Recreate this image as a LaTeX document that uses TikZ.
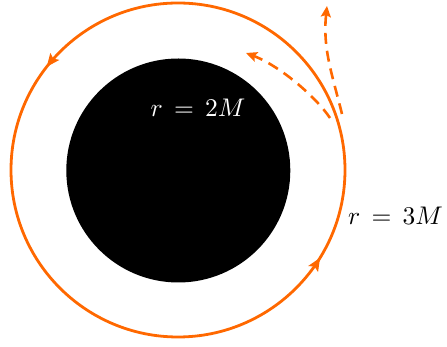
\documentclass[tikz,border=0pt]{standalone}
\usetikzlibrary{arrows.meta,decorations.markings}
\definecolor{orbit}{RGB}{255,104,0}
\begin{document}
\begin{tikzpicture}[x=1pt,y=1pt,
  orbitline/.style={draw=orbit,line width=2.8pt},
  escape/.style={draw=orbit,line width=2.6pt,dash pattern=on 11pt off 7pt,
    -{Stealth[length=11pt,width=10pt,inset=2pt]}},
  lab/.style={inner sep=0pt,scale=2.55}]
\useasboundingbox (0,0) rectangle (447,347);
\coordinate (bh) at (178.3,176.5);
\coordinate (oc) at (178,177);
\fill[black] (bh) circle (112);
\draw[orbitline,postaction={decorate},
  decoration={markings,
    mark=at position 0.394 with {\arrow{Stealth[length=13pt,width=11pt,inset=2.5pt]}},
    mark=at position 0.912 with {\arrow{Stealth[length=13pt,width=11pt,inset=2.5pt]}}}]
  (oc) ++(0:167) arc[start angle=0,end angle=360,radius=167];
\coordinate (s1) at (330,229);
\coordinate (t1) at (246,294);
\coordinate (s2) at (342,233);
\coordinate (t2) at (327,341);
\draw[escape] (s1) .. controls (316,250) and (280,281) .. (t1);
\draw[escape] (s2) to[out=104,in=-96] (t2);
\node[lab,text=white,anchor=base] (l2) at (198,230) {$r\,=\,2M$};
\node[lab,text=black,anchor=base] (l3) at (395.5,122.5) {$r\,=\,3M$};
\end{tikzpicture}
\end{document}
